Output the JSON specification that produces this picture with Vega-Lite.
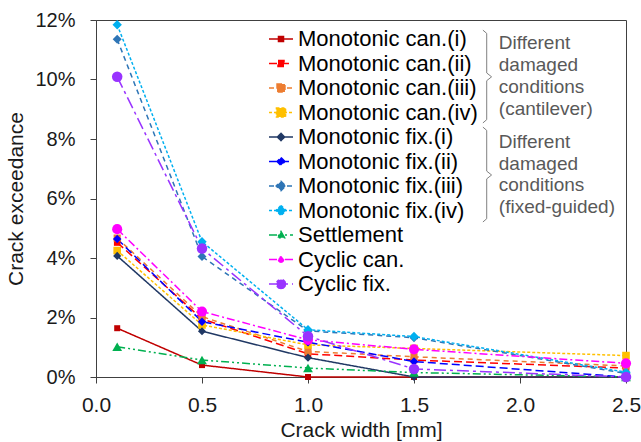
{
  "$schema": "https://vega.github.io/schema/vega-lite/v6.json",
  "width": 530,
  "height": 357,
  "autosize": {"type": "none"},
  "padding": {"left": 96, "top": 20, "right": 15, "bottom": 65},
  "background": "white",
  "datasets": {
    "main": [
      {"series": "Monotonic can.(i)", "w": 0.1, "e": 1.64},
      {"series": "Monotonic can.(i)", "w": 0.5, "e": 0.40},
      {"series": "Monotonic can.(i)", "w": 1.0, "e": 0},
      {"series": "Monotonic can.(i)", "w": 1.5, "e": 0},
      {"series": "Monotonic can.(i)", "w": 2.5, "e": 0},
      {"series": "Monotonic can.(ii)", "w": 0.1, "e": 4.52},
      {"series": "Monotonic can.(ii)", "w": 0.5, "e": 1.95},
      {"series": "Monotonic can.(ii)", "w": 1.0, "e": 0.78},
      {"series": "Monotonic can.(ii)", "w": 1.5, "e": 0.57},
      {"series": "Monotonic can.(ii)", "w": 2.5, "e": 0.30},
      {"series": "Monotonic can.(iii)", "w": 0.1, "e": 4.67},
      {"series": "Monotonic can.(iii)", "w": 0.5, "e": 2.03},
      {"series": "Monotonic can.(iii)", "w": 1.0, "e": 0.86},
      {"series": "Monotonic can.(iii)", "w": 1.5, "e": 0.68},
      {"series": "Monotonic can.(iii)", "w": 2.5, "e": 0.37},
      {"series": "Monotonic can.(iv)", "w": 0.1, "e": 4.25},
      {"series": "Monotonic can.(iv)", "w": 0.5, "e": 1.75},
      {"series": "Monotonic can.(iv)", "w": 1.0, "e": 1.08},
      {"series": "Monotonic can.(iv)", "w": 1.5, "e": 0.96},
      {"series": "Monotonic can.(iv)", "w": 2.5, "e": 0.72},
      {"series": "Monotonic fix.(i)", "w": 0.1, "e": 4.07},
      {"series": "Monotonic fix.(i)", "w": 0.5, "e": 1.54},
      {"series": "Monotonic fix.(i)", "w": 1.0, "e": 0.65},
      {"series": "Monotonic fix.(i)", "w": 1.5, "e": 0},
      {"series": "Monotonic fix.(i)", "w": 2.5, "e": 0},
      {"series": "Monotonic fix.(ii)", "w": 0.1, "e": 4.64},
      {"series": "Monotonic fix.(ii)", "w": 0.5, "e": 1.86},
      {"series": "Monotonic fix.(ii)", "w": 1.0, "e": 1.17},
      {"series": "Monotonic fix.(ii)", "w": 1.5, "e": 0.52},
      {"series": "Monotonic fix.(ii)", "w": 2.5, "e": 0},
      {"series": "Monotonic fix.(iii)", "w": 0.1, "e": 11.35},
      {"series": "Monotonic fix.(iii)", "w": 0.5, "e": 4.05},
      {"series": "Monotonic fix.(iii)", "w": 1.0, "e": 1.55},
      {"series": "Monotonic fix.(iii)", "w": 1.5, "e": 1.32},
      {"series": "Monotonic fix.(iii)", "w": 2.5, "e": 0.12},
      {"series": "Monotonic fix.(iv)", "w": 0.1, "e": 11.84},
      {"series": "Monotonic fix.(iv)", "w": 0.5, "e": 4.55},
      {"series": "Monotonic fix.(iv)", "w": 1.0, "e": 1.59},
      {"series": "Monotonic fix.(iv)", "w": 1.5, "e": 1.36},
      {"series": "Monotonic fix.(iv)", "w": 2.5, "e": 0.16},
      {"series": "Settlement", "w": 0.1, "e": 1.02},
      {"series": "Settlement", "w": 0.5, "e": 0.57},
      {"series": "Settlement", "w": 1.0, "e": 0.30},
      {"series": "Settlement", "w": 1.5, "e": 0.15},
      {"series": "Settlement", "w": 2.5, "e": 0},
      {"series": "Cyclic can.", "w": 0.1, "e": 4.97},
      {"series": "Cyclic can.", "w": 0.5, "e": 2.20},
      {"series": "Cyclic can.", "w": 1.0, "e": 1.25},
      {"series": "Cyclic can.", "w": 1.5, "e": 0.93},
      {"series": "Cyclic can.", "w": 2.5, "e": 0.46},
      {"series": "Cyclic fix.", "w": 0.1, "e": 10.09},
      {"series": "Cyclic fix.", "w": 0.5, "e": 4.32},
      {"series": "Cyclic fix.", "w": 1.0, "e": 1.37},
      {"series": "Cyclic fix.", "w": 1.5, "e": 0.27},
      {"series": "Cyclic fix.", "w": 2.5, "e": 0}
    ],
    "notes": [
      {"w": 1.9, "e": 11.23, "t": "Different"},
      {"w": 1.9, "e": 10.49, "t": "damaged"},
      {"w": 1.9, "e": 9.75, "t": "conditions"},
      {"w": 1.9, "e": 9.01, "t": "(cantilever)"},
      {"w": 1.9, "e": 7.91, "t": "Different"},
      {"w": 1.9, "e": 7.16, "t": "damaged"},
      {"w": 1.9, "e": 6.45, "t": "conditions"},
      {"w": 1.9, "e": 5.71, "t": "(fixed-guided)"}
    ],
    "braces": [
      {"g": "a", "i": 1, "w": 1.825, "e": 11.66},
      {"g": "a", "i": 2, "w": 1.843, "e": 11.55},
      {"g": "a", "i": 3, "w": 1.843, "e": 10.22},
      {"g": "a", "i": 4, "w": 1.866, "e": 10.09},
      {"g": "a", "i": 5, "w": 1.843, "e": 9.96},
      {"g": "a", "i": 6, "w": 1.843, "e": 8.65},
      {"g": "a", "i": 7, "w": 1.825, "e": 8.54},
      {"g": "b", "i": 1, "w": 1.825, "e": 8.40},
      {"g": "b", "i": 2, "w": 1.843, "e": 8.29},
      {"g": "b", "i": 3, "w": 1.843, "e": 6.92},
      {"g": "b", "i": 4, "w": 1.866, "e": 6.79},
      {"g": "b", "i": 5, "w": 1.843, "e": 6.66},
      {"g": "b", "i": 6, "w": 1.843, "e": 5.32},
      {"g": "b", "i": 7, "w": 1.825, "e": 5.21}
    ]
  },
  "encoding": {
    "x": {
      "field": "w", "type": "quantitative",
      "scale": {"domain": [0, 2.5], "nice": false, "zero": false},
      "axis": {"values": [0, 0.5, 1, 1.5, 2, 2.5], "format": ".1f", "title": "Crack width [mm]", "labelPadding": 11, "titlePadding": 4, "labelFlush": false}
    },
    "y": {
      "field": "e", "type": "quantitative",
      "scale": {"domain": [0, 12], "nice": false},
      "axis": {"values": [0, 2, 4, 6, 8, 10, 12], "labelExpr": "datum.value + '%'", "title": "Crack exceedance", "labelPadding": 15, "titlePadding": 8, "labelFlush": false}
    }
  },
  "layer": [
    {
      "data": {"name": "braces"},
      "mark": {"type": "line", "color": "#808080", "strokeWidth": 1},
      "encoding": {"detail": {"field": "g"}, "order": {"field": "i", "type": "quantitative"}}
    },
    {
      "data": {"name": "notes"},
      "mark": {"type": "text", "align": "left", "baseline": "middle", "fontSize": 19, "font": "Liberation Sans", "color": "#595959"},
      "encoding": {"text": {"field": "t"}}
    },
    {
      "data": {"name": "main"},
      "mark": {"type": "line", "strokeWidth": 1.5, "opacity": 1},
      "encoding": {
        "stroke": {"field": "series", "type": "nominal",
          "scale": {"domain": ["Monotonic can.(i)","Monotonic can.(ii)","Monotonic can.(iii)","Monotonic can.(iv)","Monotonic fix.(i)","Monotonic fix.(ii)","Monotonic fix.(iii)","Monotonic fix.(iv)","Settlement","Cyclic can.","Cyclic fix."],
                    "range": ["#C00000","#FF0000","#ED7D31","#FFC000","#203864","#0000FF","#2E75B6","#00B0F0","#00B050","#FF00FF","#9933FF"]}},
        "strokeDash": {"field": "series", "type": "nominal",
          "scale": {"domain": ["Monotonic can.(i)","Monotonic can.(ii)","Monotonic can.(iii)","Monotonic can.(iv)","Monotonic fix.(i)","Monotonic fix.(ii)","Monotonic fix.(iii)","Monotonic fix.(iv)","Settlement","Cyclic can.","Cyclic fix."],
                    "range": [[1,0],[8,4],[5,4],[3,2],[1,0],[8,4],[5,4],[3,2],[8,3,2,3,2,3],[8,3,2,3],[12,4,3,4]]}},
        "order": {"field": "w", "type": "quantitative"}
      }
    },
    {
      "data": {"name": "main"},
      "transform": [{"filter": "indexof(datum.series, 'can.(') >= 0"}],
      "mark": {"type": "point", "shape": "square", "filled": true, "opacity": 1},
      "encoding": {
        "fill": {"field": "series", "type": "nominal", "scale": {"domain": ["Monotonic can.(i)","Monotonic can.(ii)","Monotonic can.(iii)","Monotonic can.(iv)","Monotonic fix.(i)","Monotonic fix.(ii)","Monotonic fix.(iii)","Monotonic fix.(iv)","Settlement","Cyclic can.","Cyclic fix."], "range": ["#C00000","#FF0000","#ED7D31","#FFC000","#203864","#0000FF","#2E75B6","#00B0F0","#00B050","#FF00FF","#9933FF"]}},
        "size": {"field": "series", "type": "nominal", "legend": null, "scale": {"domain": ["Cyclic fix.","Cyclic can.","Settlement","Monotonic fix.(iv)","Monotonic fix.(iii)","Monotonic fix.(ii)","Monotonic fix.(i)","Monotonic can.(iv)","Monotonic can.(iii)","Monotonic can.(ii)","Monotonic can.(i)"], "range": [110,36,60,100,80,50,40,90,64,36,25]}}
      }
    },
    {
      "data": {"name": "main"},
      "transform": [{"filter": "indexof(datum.series, 'fix.(') >= 0"}],
      "mark": {"type": "point", "shape": "diamond", "filled": true, "opacity": 1},
      "encoding": {
        "fill": {"field": "series", "type": "nominal"},
        "size": {"field": "series", "type": "nominal", "legend": null}
      }
    },
    {
      "data": {"name": "main"},
      "transform": [{"filter": "datum.series === 'Settlement'"}],
      "mark": {"type": "point", "shape": "triangle-up", "filled": true, "opacity": 1},
      "encoding": {
        "fill": {"field": "series", "type": "nominal"},
        "size": {"field": "series", "type": "nominal", "legend": null}
      }
    },
    {
      "data": {"name": "main"},
      "transform": [{"filter": "indexof(datum.series, 'Cyclic') >= 0"}],
      "mark": {"type": "point", "shape": "circle", "filled": true, "opacity": 1},
      "encoding": {
        "fill": {"field": "series", "type": "nominal"},
        "size": {"field": "series", "type": "nominal", "legend": null}
      }
    },
    {
      "data": {"name": "main"},
      "transform": [{"filter": "datum.w < 0"}],
      "mark": {"type": "point", "filled": true, "opacity": 1},
      "encoding": {
        "fill": {"field": "series", "type": "nominal"},
        "stroke": {"field": "series", "type": "nominal"},
        "strokeDash": {"field": "series", "type": "nominal"},
        "shape": {"field": "series", "type": "nominal",
          "scale": {"domain": ["Monotonic can.(i)","Monotonic can.(ii)","Monotonic can.(iii)","Monotonic can.(iv)","Monotonic fix.(i)","Monotonic fix.(ii)","Monotonic fix.(iii)","Monotonic fix.(iv)","Settlement","Cyclic can.","Cyclic fix."],
            "range": [
              "M-1,0H1M-0.21,-0.21H0.21V0.21H-0.21Z",
              "M-1,0H1M-0.25,-0.25H0.25V0.25H-0.25Z",
              "M-1,0H1M-0.33,-0.33H0.33V0.33H-0.33Z",
              "M-1,0H1M-0.38,-0.38H0.38V0.38H-0.38Z",
              "M-1,0H1M0,-0.3L0.3,0L0,0.3L-0.3,0Z",
              "M-1,0H1M0,-0.33L0.33,0L0,0.33L-0.33,0Z",
              "M-1,0H1M0,-0.4L0.4,0L0,0.4L-0.4,0Z",
              "M-1,0H1M0,-0.42L0.42,0L0,0.42L-0.42,0Z",
              "M-1,0H1M0,-0.3L0.3,0.22L-0.3,0.22Z",
              "M-1,0H1M0.22,0L0.19,0.11L0.11,0.19L0,0.22L-0.11,0.19L-0.19,0.11L-0.22,0L-0.19,-0.11L-0.11,-0.19L0,-0.22L0.11,-0.19L0.19,-0.11Z",
              "M-1,0H1M0.38,0L0.33,0.19L0.19,0.33L0,0.38L-0.19,0.33L-0.33,0.19L-0.38,0L-0.33,-0.19L-0.19,-0.33L0,-0.38L0.19,-0.33L0.33,-0.19Z"
            ]}}
      }
    }
  ],
  "config": {
    "font": "Liberation Sans",
    "view": {"stroke": "#404040", "strokeWidth": 1},
    "axis": {
      "grid": false,
      "domainColor": "#404040",
      "tickColor": "#404040",
      "tickSize": 6,
      "labelFont": "Liberation Sans",
      "labelFontSize": 20,
      "labelColor": "#1a1a1a",
      "titleFont": "Liberation Sans",
      "titleFontSize": 21,
      "titleFontWeight": "normal",
      "titleColor": "#1a1a1a"
    },
    "axisX": {"labelFontSize": 21},
    "legend": {
      "orient": "none",
      "legendX": 172,
      "legendY": 6,
      "title": null,
      "padding": 0,
      "labelFont": "Liberation Sans",
      "labelFontSize": 22,
      "labelColor": "#000000",
      "labelOffset": 4,
      "labelLimit": 300,
      "symbolSize": 576,
      "symbolStrokeWidth": 1.5,
      "rowPadding": 0.5
    }
  }
}
